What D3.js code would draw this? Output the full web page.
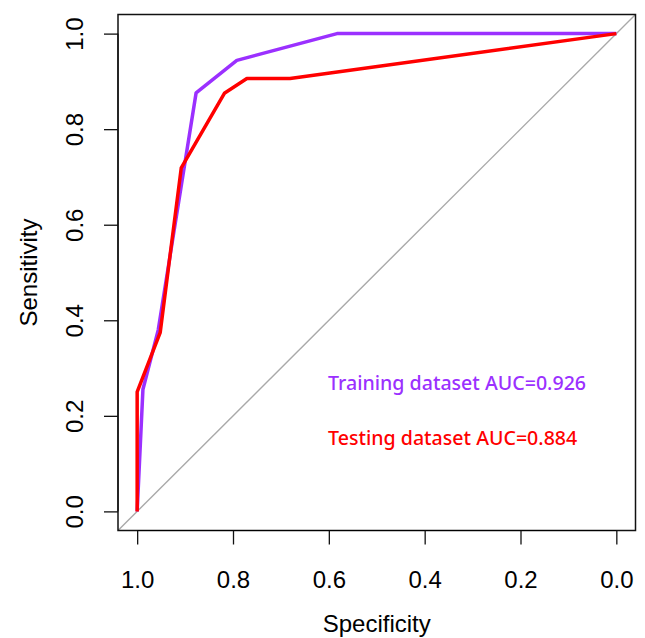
<!DOCTYPE html>
<html>
<head>
<meta charset="utf-8">
<script src="https://cdn.jsdelivr.net/npm/d3@7"></script>
<style>
  body { margin: 0; background: #fff; }
  svg { display: block; }
</style>
</head>
<body>
<svg width="645" height="638"></svg>
<script>
// ROC curves: [specificity, sensitivity]
const trainSpec = [1.0, 0.988, 0.956, 0.877, 0.792, 0.583, 0.0];
const trainSens = [0.0, 0.255, 0.380, 0.876, 0.944, 1.0, 1.0];
const testSpec = [1.0, 1.0, 0.952, 0.908, 0.818, 0.771, 0.681, 0.0];
const testSens = [0.0, 0.25, 0.374, 0.719, 0.875, 0.906, 0.906, 1.0];
const ticks = [1.0, 0.8, 0.6, 0.4, 0.2, 0.0];
const legendLabels = ['Training dataset AUC=0.926', 'Testing dataset AUC=0.884'];
const colors = ['#9B30FF', '#FF0000'];

const svg = d3.select('svg');
const box = {left: 118, right: 635.5, top: 14.5, bottom: 530.5};
const pad = 0.04;

// R-style 4% extension on each side
const x = d3.scaleLinear()
  .domain([1 + pad, -pad])
  .range([box.left, box.right]);
const y = d3.scaleLinear()
  .domain([-pad, 1 + pad])
  .range([box.bottom, box.top]);

svg.append('clipPath').attr('id', 'plot-clip')
  .append('rect')
  .attr('x', box.left).attr('y', box.top)
  .attr('width', box.right - box.left).attr('height', box.bottom - box.top);

const plot = svg.append('g').attr('clip-path', 'url(#plot-clip)');

// chance diagonal
plot.append('line')
  .attr('x1', x(1 + pad)).attr('y1', y(-pad))
  .attr('x2', x(-pad)).attr('y2', y(1 + pad))
  .attr('stroke', '#a9a9a9')
  .attr('stroke-width', 1.4);

const line = d3.line()
  .x(d => x(d[0]))
  .y(d => y(d[1]));

const series = [
  d3.zip(trainSpec, trainSens),
  d3.zip(testSpec, testSens),
];
series.forEach((pts, i) => {
  plot.append('path')
    .datum(pts)
    .attr('d', line)
    .attr('fill', 'none')
    .attr('stroke', colors[i])
    .attr('stroke-width', 3.5)
    .attr('stroke-linejoin', 'round');
});

// frame
svg.append('rect')
  .attr('x', box.left).attr('y', box.top)
  .attr('width', box.right - box.left).attr('height', box.bottom - box.top)
  .attr('fill', 'none')
  .attr('stroke', '#111')
  .attr('stroke-width', 1.5);

const fmt = d3.format('.1f');
const axisFont = '"Liberation Sans", Arial, sans-serif';

const xAxis = svg.append('g')
  .attr('transform', 'translate(0,' + box.bottom + ')')
  .call(d3.axisBottom(x).tickValues(ticks).tickFormat(fmt)
    .tickSize(14).tickSizeOuter(0).tickPadding(26));
xAxis.select('.domain')
  .attr('d', 'M' + x(1) + ',0H' + x(0));
xAxis.selectAll('.tick line').attr('stroke', '#111').attr('stroke-width', 1.3);
xAxis.selectAll('.tick text')
  .attr('fill', '#000')
  .style('font-family', axisFont)
  .style('font-size', '24px');

const yAxis = svg.append('g')
  .attr('transform', 'translate(' + box.left + ',0)')
  .call(d3.axisLeft(y).tickValues(ticks.slice().reverse()).tickFormat(fmt)
    .tickSize(14).tickSizeOuter(0));
yAxis.select('.domain')
  .attr('d', 'M0,' + y(0) + 'V' + y(1));
yAxis.selectAll('.tick line').attr('stroke', '#111').attr('stroke-width', 1.3);
yAxis.selectAll('.tick text')
  .attr('x', null)
  .attr('dy', null)
  .attr('transform', 'translate(-35,0) rotate(-90)')
  .attr('text-anchor', 'middle')
  .attr('fill', '#000')
  .style('font-family', axisFont)
  .style('font-size', '24px');

// axis titles
svg.append('text')
  .attr('x', (x(1) + x(0)) / 2)
  .attr('y', 632)
  .attr('text-anchor', 'middle')
  .style('font-family', axisFont)
  .style('font-size', '24px')
  .text('Specificity');

svg.append('text')
  .attr('transform', 'translate(37,' + (y(0) + y(1)) / 2 + ') rotate(-90)')
  .attr('text-anchor', 'middle')
  .style('font-family', axisFont)
  .style('font-size', '24px')
  .text('Sensitivity');

// AUC labels
svg.selectAll('.auc')
  .data(legendLabels)
  .join('text')
  .attr('class', 'auc')
  .attr('x', 328)
  .attr('y', (d, i) => 390 + i * 54.5)
  .attr('fill', (d, i) => colors[i])
  .style('font-family', '"Noto Sans", sans-serif')
  .style('font-size', '19.6px')
  .style('font-weight', 500)
  .text(d => d);
</script>
</body>
</html>
